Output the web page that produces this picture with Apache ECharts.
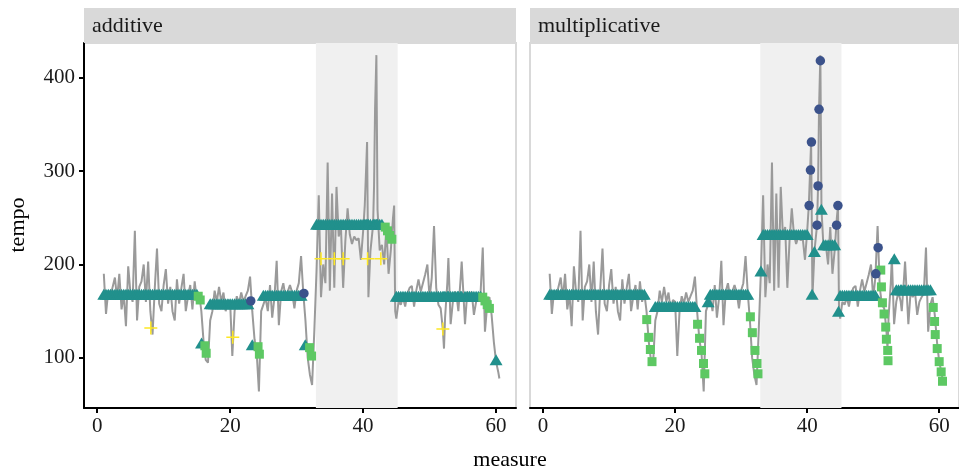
<!DOCTYPE html>
<html>
<head>
<meta charset="utf-8">
<script src="https://cdn.jsdelivr.net/npm/echarts@6/dist/echarts.min.js"></script>
<style>
  html, body { margin: 0; padding: 0; background: #ffffff; }
  #chart { width: 959px; height: 474px; }
</style>
</head>
<body>
<div id="chart"></div>
<script>
// Observed tempo at each note onset (measure position, tempo)
const beat = [
  1, 1.33, 1.67, 2, 2.33, 2.67, 3, 3.33, 3.67, 4, 4.33, 4.67, 5, 5.33, 5.67, 6, 6.33, 6.67,
  7, 7.33, 7.67, 8, 8.33, 8.67, 9, 9.33, 9.67, 10, 10.33, 10.67, 11, 11.33, 11.67, 12, 12.33, 12.67,
  13, 13.33, 13.67, 14, 14.33, 14.67, 15, 15.33, 15.67, 16, 16.33, 16.67,
  17, 17.33, 17.67, 18, 18.33, 18.67, 19, 19.33, 19.67, 20, 20.33, 20.67, 21, 21.33, 21.67,
  22, 22.33, 22.67, 23, 23.33, 23.67, 24, 24.33, 24.67,
  25, 25.33, 25.67, 26, 26.33, 26.67, 27, 27.33, 27.67, 28, 28.33, 28.67, 29, 29.33, 29.67,
  30, 30.33, 30.67, 31, 31.33, 31.67, 32, 32.33, 32.67,
  33, 33.33, 33.67, 34, 34.33, 34.67, 35, 35.33, 35.67, 36, 36.33, 36.67, 37, 37.33, 37.67,
  38, 38.33, 38.67, 39, 39.33, 39.67, 40, 40.25, 40.45, 40.6, 40.8, 41.1, 41.5, 41.65, 41.8,
  42, 42.17, 42.5, 42.83, 43.17, 43.5, 43.83, 44.17, 44.5, 44.67, 44.83,
  45, 45.33, 45.67, 46, 46.33, 46.67, 47, 47.33, 47.67, 48, 48.33, 48.67, 49, 49.33, 49.67,
  50, 50.33, 50.67, 51, 51.33, 51.67, 52, 52.17, 52.33, 52.67, 52.83, 53.17, 53.5, 53.83,
  54.17, 54.33, 54.67, 54.83, 55.33, 55.67, 56, 56.33, 56.67, 57, 57.33, 57.67,
  58, 58.33, 58.67, 59, 59.33, 59.67, 60, 60.33, 60.5
];
const tempo = [
  190, 147, 172, 166, 176, 186, 163, 190, 152, 168, 134, 198, 170, 160, 236, 140, 176, 182,
  200, 160, 203, 150, 125, 175, 217, 158, 150, 178, 195, 158, 176, 150, 140, 184, 158, 175,
  190, 150, 166, 178, 152, 182, 160, 170, 150, 118, 98, 95,
  140, 150, 172, 160, 176, 160, 170, 150, 162, 160, 102, 150, 166, 158, 170,
  160, 166, 172, 187, 150, 120, 105, 64, 150,
  157, 164, 150, 178, 143, 165, 204, 135, 171, 180, 165, 171, 178, 170, 153,
  172, 180, 209, 170, 140, 100, 82, 71, 130,
  194, 274, 165, 200, 180, 309, 172, 276, 175, 283, 230, 240, 175, 225, 260,
  232, 222, 230, 226, 228, 205, 235, 263, 301, 331, 165, 214, 242, 284, 366,
  424, 259, 215, 221, 200, 240, 190, 215, 250, 263, 150,
  142, 160, 157, 165, 155, 169, 175, 177, 155, 172, 184, 171, 180, 189, 200,
  164, 186, 241, 175, 157, 153, 130, 110, 143, 180, 207, 136, 160, 171,
  160, 150, 185, 203, 136, 171, 165, 171, 146, 160, 165, 169,
  218, 128, 157, 165, 146, 117, 96, 85, 78
];

// Faster middle section (measure range)
const sectionSpan = [32.9, 45.2];

// Additive model: constant-tempo segments [from, to, tempo]
const addConstSeg = [[1, 15, 168], [17, 22.67, 158], [25, 30.67, 167], [33, 42.83, 243], [45, 57.67, 166]];
const addConstSingle = [[15.7, 116], [23.33, 114], [31.3, 114], [60, 98]];
const addDecel = [[15.2, 166], [15.5, 162], [16.2, 113], [16.4, 105], [24.2, 112], [24.4, 104],
  [31.95, 111], [32.25, 102], [43.33, 240], [43.67, 236], [44, 231], [44.33, 227],
  [58, 165], [58.33, 161], [58.67, 157], [59, 153]];
const addAccel = [[23.1, 161], [31.1, 169]];
const addStress = [[8.07, 132], [20.4, 122], [33.67, 206], [35.67, 206], [37, 206], [40.67, 206], [42.67, 206], [52, 131]];

// Multiplicative model
const mulConstSeg = [[1, 15.33, 168], [17, 23, 155], [25.33, 31, 168], [33.33, 40, 232], [42.5, 44.17, 221], [45, 50.33, 167], [53.5, 58.67, 173]];
const mulConstSingle = [[25, 160], [33, 193], [40.75, 168], [41.1, 214], [42.15, 259], [44.75, 150], [53.2, 206]];
const mulDecel = [[15.7, 141], [16, 122], [16.25, 109], [16.5, 96],
  [23.4, 136], [23.7, 121], [24, 108], [24.3, 94], [24.5, 83],
  [31.4, 144], [31.7, 127], [32.1, 108], [32.4, 94], [32.55, 83],
  [51.15, 194], [51.25, 176], [51.4, 159], [51.65, 147], [51.9, 133], [52, 120], [52.2, 108], [52.25, 97],
  [59.1, 154], [59.3, 139], [59.4, 125], [59.7, 110], [60, 96], [60.3, 85], [60.5, 75]];
const mulAccel = [[40.3, 263], [40.5, 301], [40.65, 331], [41.5, 242], [41.65, 284], [41.8, 366], [42, 418],
  [44.46, 242], [44.66, 263], [50.4, 190], [50.75, 218]];
const mulStress = [];

const panels = ['additive', 'multiplicative'];
const xTicks = [0, 20, 40, 60];
const yTicks = [100, 200, 300, 400];

const COL = { line: '#9a9a9a', tri: '#21908C', sq: '#5DC863', circ: '#3B528B', plus: '#FDE725' };
const SERIF = 'Liberation Serif, Times New Roman, serif';
const PLUS = 'path://M5.3,0H6.7V5.3H12V6.7H6.7V12H5.3V6.7H0V5.3H5.3Z';

function constantPoints(segs, singles) {
  const out = [];
  segs.forEach(([a, b, t]) => beat.forEach(m => { if (m >= a - 1e-6 && m <= b + 1e-6) out.push([m, t]); }));
  return out.concat(singles);
}

const obs = beat.map((m, i) => [m, tempo[i]]);
const models = [
  { tri: constantPoints(addConstSeg, addConstSingle), sq: addDecel, circ: addAccel, plus: addStress },
  { tri: constantPoints(mulConstSeg, mulConstSingle), sq: mulDecel, circ: mulAccel, plus: mulStress }
];

const gridLefts = [84, 530];
const grid = gridLefts.map(l => ({
  left: l, top: 43, width: 432, height: 365,
  show: true, backgroundColor: '#ffffff', borderColor: '#d9d9d9', borderWidth: 2
}));

const xAxis = [0, 1].map(i => ({
  type: 'value', gridIndex: i, min: -1.98, max: 63,
  splitLine: { show: false },
  axisLine: { show: true, onZero: false, lineStyle: { color: '#000', width: 2 } },
  axisTick: { show: true, length: 5, lineStyle: { color: '#000', width: 2 }, customValues: xTicks },
  axisLabel: { color: '#1a1a1a', fontFamily: SERIF, fontSize: 21, margin: 8, customValues: xTicks }
}));

const yAxis = [0, 1].map(i => ({
  type: 'value', gridIndex: i, min: 46.4, max: 437,
  splitLine: { show: false },
  axisLine: { show: i === 0, onZero: false, lineStyle: { color: '#000', width: 2 } },
  axisTick: { show: i === 0, length: 5, lineStyle: { color: '#000', width: 2 }, customValues: yTicks },
  axisLabel: { show: i === 0, color: '#1a1a1a', fontFamily: SERIF, fontSize: 21, margin: 9, customValues: yTicks }
}));

const series = [];
[0, 1].forEach(i => {
  series.push({
    type: 'line', xAxisIndex: i, yAxisIndex: i, data: [], silent: true, z: 1,
    markArea: { silent: true, itemStyle: { color: '#f0f0f0' }, data: [[{ xAxis: sectionSpan[0] }, { xAxis: sectionSpan[1] }]] }
  });
  series.push({
    type: 'line', xAxisIndex: i, yAxisIndex: i, data: obs, showSymbol: false, z: 2,
    lineStyle: { color: COL.line, width: 2 }, animation: false
  });
  const m = models[i];
  series.push({ type: 'scatter', xAxisIndex: i, yAxisIndex: i, data: m.tri, symbol: 'triangle', symbolSize: [13, 11], itemStyle: { color: COL.tri, opacity: 1 }, z: 3 });
  series.push({ type: 'scatter', xAxisIndex: i, yAxisIndex: i, data: m.sq, symbol: 'rect', symbolSize: 9, itemStyle: { color: COL.sq, opacity: 1 }, z: 4 });
  series.push({ type: 'scatter', xAxisIndex: i, yAxisIndex: i, data: m.circ, symbol: 'circle', symbolSize: 9.5, itemStyle: { color: COL.circ, opacity: 1 }, z: 5 });
  series.push({ type: 'scatter', xAxisIndex: i, yAxisIndex: i, data: m.plus, symbol: PLUS, symbolSize: 13, itemStyle: { color: COL.plus, opacity: 1 }, z: 6 });
});

const graphic = [];
gridLefts.forEach((l, i) => {
  graphic.push({ type: 'rect', left: l, top: 8, shape: { width: 432, height: 35 }, style: { fill: '#d9d9d9' }, z: 10 });
  graphic.push({ type: 'text', x: l + 8, y: 26, style: { text: panels[i], font: '22px ' + SERIF, fill: '#1a1a1a', textVerticalAlign: 'middle' }, z: 11 });
});
graphic.push({ type: 'text', x: 510, y: 460, style: { text: 'measure', font: '22px ' + SERIF, fill: '#000', textAlign: 'center', textVerticalAlign: 'middle' } });
graphic.push({ type: 'text', x: 18, y: 225, rotation: Math.PI / 2, style: { text: 'tempo', font: '22px ' + SERIF, fill: '#000', textAlign: 'center', textVerticalAlign: 'middle' } });

const chart = echarts.init(document.getElementById('chart'), null, { renderer: 'canvas' });
chart.setOption({
  animation: false,
  backgroundColor: '#ffffff',
  grid, xAxis, yAxis, series, graphic
});
</script>
</body>
</html>
